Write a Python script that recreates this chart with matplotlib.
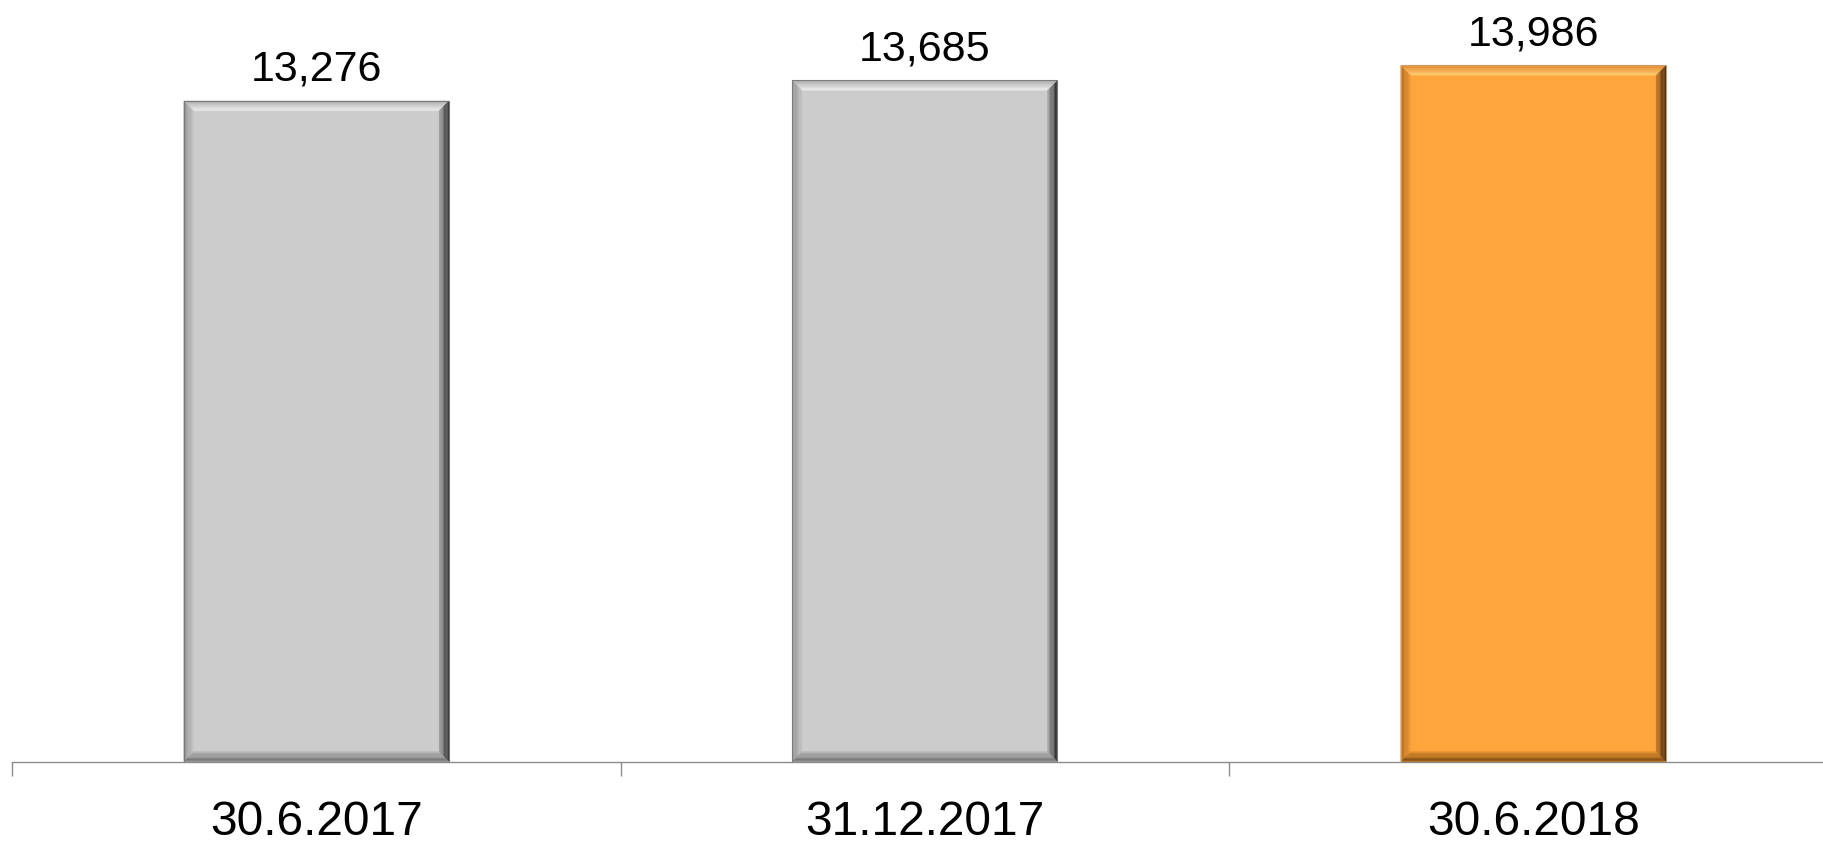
import matplotlib
matplotlib.use("Agg")
import matplotlib.pyplot as plt
from matplotlib.patches import Polygon
import numpy as np

categories = ["30.6.2017", "31.12.2017", "30.6.2018"]
values = [13276, 13685, 13986]
value_labels = ["13,276", "13,685", "13,986"]

plt.rcParams['font.family'] = ['Liberation Sans', 'DejaVu Sans']

W, H, DPI = 1823, 842, 100
fig = plt.figure(figsize=(W / DPI, H / DPI), dpi=DPI)
ax_left, ax_bottom_px, cat_px = 12, 761.5, 608.5
ax = fig.add_axes([ax_left / W, (H - ax_bottom_px) / H, 3 * cat_px / W, ax_bottom_px / H])
ax.set_xlim(-0.5, 2.5)
ax.set_ylim(0, 15300)

gray = dict(face="#cccccc", edge="#7a7a7a",
            top=("#a8a8a8", "#f2f2f2"), left=("#8c8c8c", "#c4c4c4"),
            right=("#1e1e1e", "#a8a8a8"), bottom=("#6e6e6e", "#b4b4b4"))
orange = dict(face="#fea53b", edge="#cf9a6a",
              top=("#e08a30", "#ffd27a"), left=("#a8651e", "#f29a36"),
              right=("#2e1a06", "#d08028"), bottom=("#7a4612", "#e0902e"))
styles = [gray, gray, orange]

bw = 0.436
x = np.arange(len(categories))
bars = ax.bar(x, values, width=bw, color=[s["face"] for s in styles],
              edgecolor="none", linewidth=0, zorder=2)

bev_px = 10
dx = bev_px * (3.0 / (3 * cat_px))
dy = bev_px * (15300 / ax_bottom_px)


def blend(c1, c2, t):
    a = np.array(matplotlib.colors.to_rgb(c1))
    b = np.array(matplotlib.colors.to_rgb(c2))
    return tuple(a + (b - a) * t)


def side(pts_outer, pts_inner, cols, n=8):
    (o1, o2), (i1, i2) = pts_outer, pts_inner
    for k in range(n):
        a, b = k / n, (k + 1) / n
        p1 = (o1[0] + (i1[0] - o1[0]) * a, o1[1] + (i1[1] - o1[1]) * a)
        p2 = (o2[0] + (i2[0] - o2[0]) * a, o2[1] + (i2[1] - o2[1]) * a)
        q2 = (o2[0] + (i2[0] - o2[0]) * b, o2[1] + (i2[1] - o2[1]) * b)
        q1 = (o1[0] + (i1[0] - o1[0]) * b, o1[1] + (i1[1] - o1[1]) * b)
        ax.add_patch(Polygon([p1, p2, q2, q1], closed=True,
                             facecolor=blend(cols[0], cols[1], (k + 0.5) / n),
                             edgecolor="none", zorder=3, antialiased=True))


for rect, s in zip(bars, styles):
    x0 = rect.get_x()
    x1 = x0 + rect.get_width()
    y0 = 0
    y1 = rect.get_height()
    OTL, OTR, OBR, OBL = (x0, y1), (x1, y1), (x1, y0), (x0, y0)
    ITL, ITR = (x0 + dx, y1 - dy), (x1 - dx, y1 - dy)
    IBR, IBL = (x1 - dx, y0 + dy), (x0 + dx, y0 + dy)
    side((OTL, OTR), (ITL, ITR), s["top"])
    side((OTL, OBL), (ITL, IBL), s["left"])
    side((OBL, OBR), (IBL, IBR), s["bottom"])
    side((OTR, OBR), (ITR, IBR), s["right"])
    ax.add_patch(Polygon([OBL, OTL, OTR, OBR], closed=True,
                         facecolor="none", edgecolor=s["edge"], linewidth=0.8, zorder=4))

for xi, v, lab in zip(x, values, value_labels):
    ax.annotate(lab, (xi, v), xytext=(0, 14.4), textcoords="offset points",
                ha="center", va="baseline", fontsize=31, color="black")

for sp in ["top", "left", "right"]:
    ax.spines[sp].set_visible(False)
ax.spines["bottom"].set_color("#8c8c8c")
ax.spines["bottom"].set_linewidth(1.0)
ax.set_yticks([])
ax.set_xticks(x)
ax.set_xticklabels(categories, fontsize=34.5)
ax.tick_params(axis="x", which="major", length=0, pad=28)
ax.set_xticks([-0.5, 0.5, 1.5, 2.5], minor=True)
ax.tick_params(axis="x", which="minor", length=10, width=1.0, color="#8c8c8c")
ax.patch.set_alpha(0)

fig.savefig("out.png", dpi=DPI)
